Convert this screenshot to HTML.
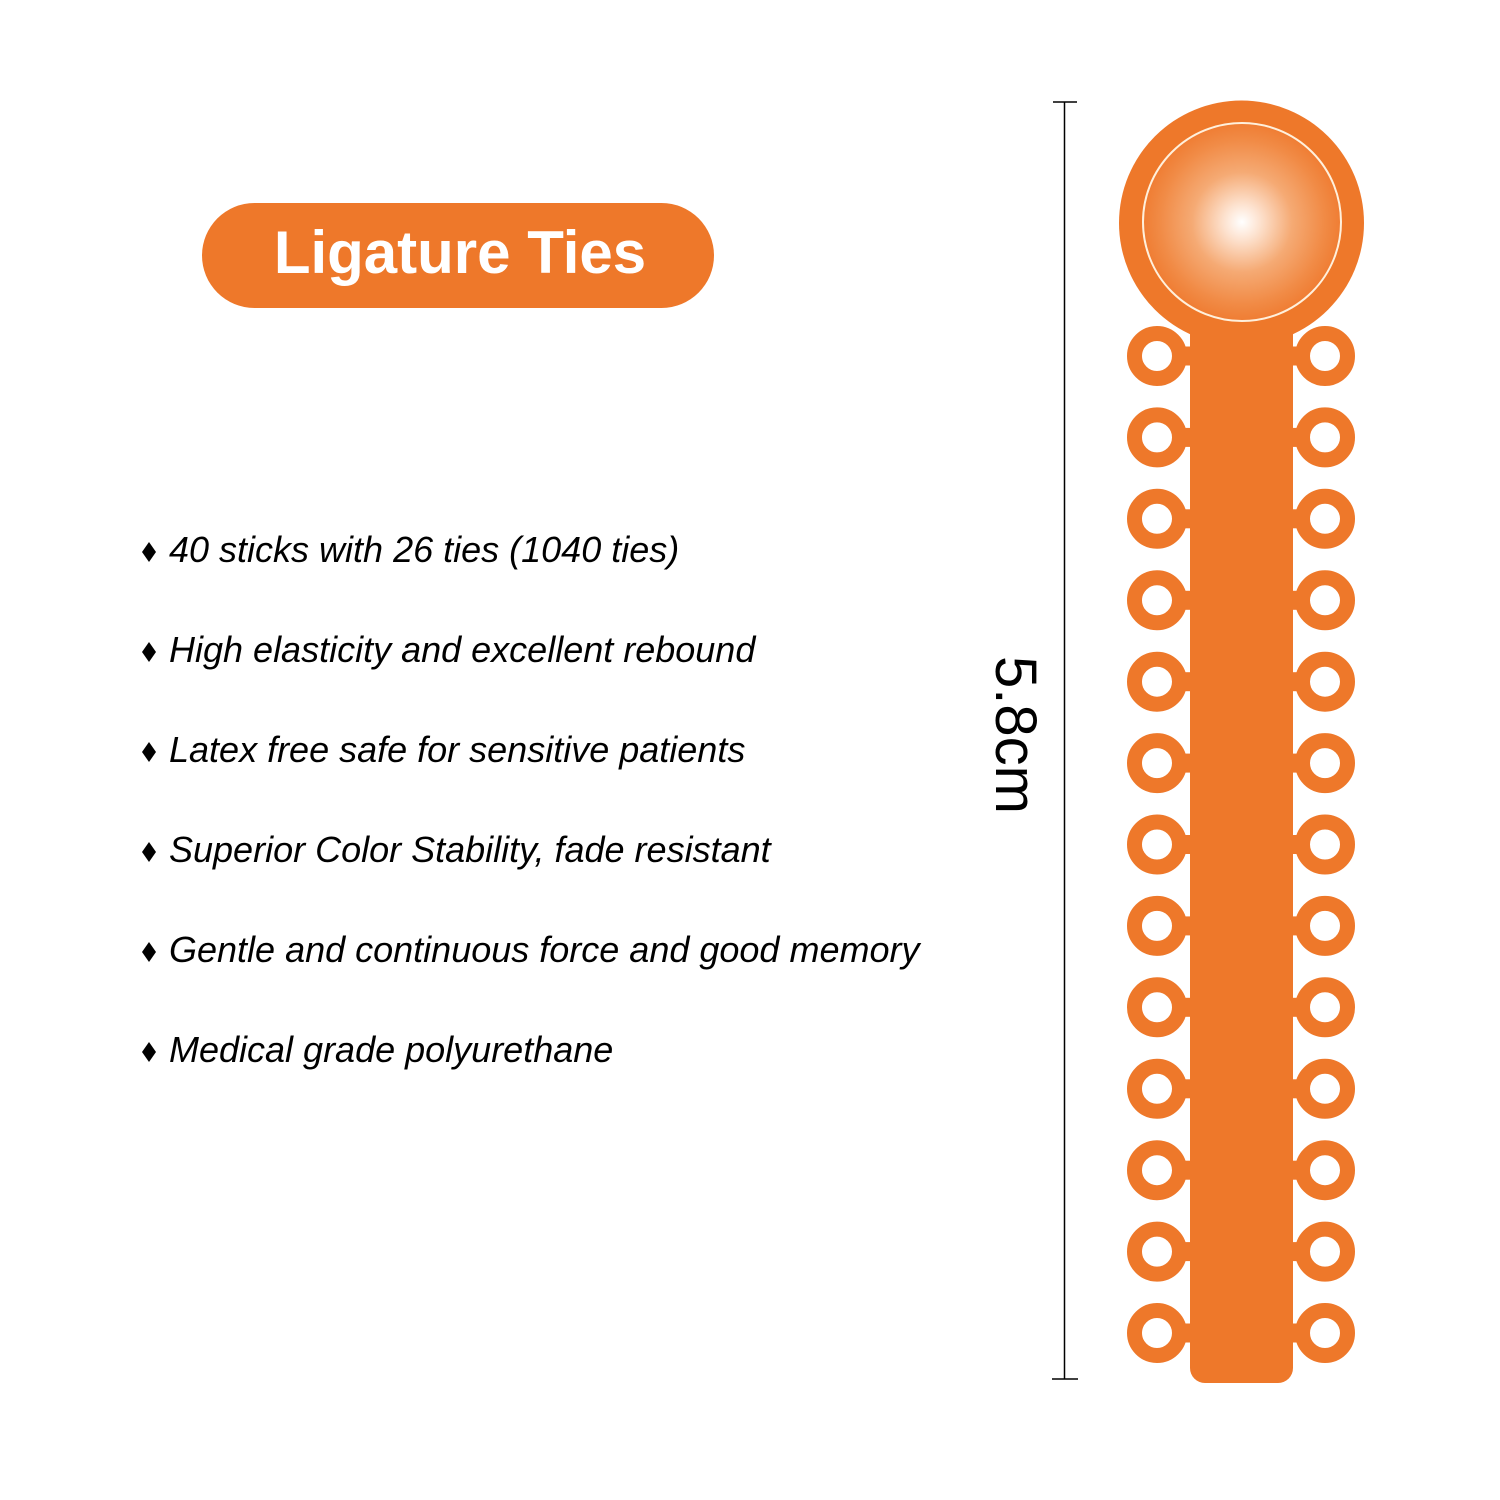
<!DOCTYPE html>
<html>
<head>
<meta charset="utf-8">
<style>
  html, body { margin: 0; padding: 0; background: #ffffff; }
  body { width: 1500px; height: 1500px; overflow: hidden; }
  svg { display: block; }
  .bul { font-family: "Liberation Sans", Arial, sans-serif; font-style: italic; font-size: 36px; fill: #000; }
</style>
</head>
<body>
<svg width="1500" height="1500" viewBox="0 0 1500 1500" xmlns="http://www.w3.org/2000/svg">
  <defs>
    <radialGradient id="g" cx="1242" cy="222" r="100" gradientUnits="userSpaceOnUse">
      <stop offset="0" stop-color="#ffffff"/>
      <stop offset="0.18" stop-color="#fde2cf"/>
      <stop offset="0.5" stop-color="#f5aa74"/>
      <stop offset="0.82" stop-color="#f18b46"/>
      <stop offset="1" stop-color="#ef7c32"/>
    </radialGradient>
  </defs>

  <!-- Title pill -->
  <rect x="202" y="203" width="512" height="105" rx="52.5" fill="#EE782A"/>
  <text x="460" y="273" text-anchor="middle" font-family="Liberation Sans, Arial, sans-serif" font-weight="bold" font-size="60" fill="#ffffff">Ligature Ties</text>

  <!-- Bullets -->
  <g fill="#000">
    <polygon points="149,542 156,552 149,562 142,552"/>
    <polygon points="149,642 156,652 149,662 142,652"/>
    <polygon points="149,742 156,752 149,762 142,752"/>
    <polygon points="149,842 156,852 149,862 142,852"/>
    <polygon points="149,942 156,952 149,962 142,952"/>
    <polygon points="149,1042 156,1052 149,1062 142,1052"/>
  </g>
  <text class="bul" x="169" y="562">40 sticks with 26 ties (1040 ties)</text>
  <text class="bul" x="169" y="662">High elasticity and excellent rebound</text>
  <text class="bul" x="169" y="762">Latex free safe for sensitive patients</text>
  <text class="bul" x="169" y="862">Superior Color Stability, fade resistant</text>
  <text class="bul" x="169" y="962">Gentle and continuous force and good memory</text>
  <text class="bul" x="169" y="1062">Medical grade polyurethane</text>

  <!-- Measurement -->
  <line x1="1064.5" y1="102" x2="1064.5" y2="1379" stroke="#000" stroke-width="1.5"/>
  <line x1="1053" y1="102" x2="1077" y2="102" stroke="#000" stroke-width="1.5"/>
  <line x1="1052" y1="1379" x2="1078" y2="1379" stroke="#000" stroke-width="1.5"/>
  <text transform="translate(996,656) rotate(90)" font-family="Liberation Sans, Arial, sans-serif" font-size="58" fill="#000">5.8cm</text>

  <!-- Stick -->
  <g fill="#EE782A">
    <circle cx="1241.5" cy="223" r="122.5"/>
    <rect x="1190" y="290" width="103" height="1093" rx="15"/>
  </g>
  <circle cx="1242" cy="222" r="99" fill="url(#g)" stroke="#fff0dc" stroke-width="2"/>

  <g fill="none" stroke="#EE782A" stroke-width="15">
    <circle cx="1157" cy="356" r="22.5"/><circle cx="1325" cy="356" r="22.5"/>
    <circle cx="1157" cy="437.4" r="22.5"/><circle cx="1325" cy="437.4" r="22.5"/>
    <circle cx="1157" cy="518.8" r="22.5"/><circle cx="1325" cy="518.8" r="22.5"/>
    <circle cx="1157" cy="600.3" r="22.5"/><circle cx="1325" cy="600.3" r="22.5"/>
    <circle cx="1157" cy="681.7" r="22.5"/><circle cx="1325" cy="681.7" r="22.5"/>
    <circle cx="1157" cy="763.1" r="22.5"/><circle cx="1325" cy="763.1" r="22.5"/>
    <circle cx="1157" cy="844.5" r="22.5"/><circle cx="1325" cy="844.5" r="22.5"/>
    <circle cx="1157" cy="925.9" r="22.5"/><circle cx="1325" cy="925.9" r="22.5"/>
    <circle cx="1157" cy="1007.3" r="22.5"/><circle cx="1325" cy="1007.3" r="22.5"/>
    <circle cx="1157" cy="1088.8" r="22.5"/><circle cx="1325" cy="1088.8" r="22.5"/>
    <circle cx="1157" cy="1170.2" r="22.5"/><circle cx="1325" cy="1170.2" r="22.5"/>
    <circle cx="1157" cy="1251.6" r="22.5"/><circle cx="1325" cy="1251.6" r="22.5"/>
    <circle cx="1157" cy="1333" r="22.5"/><circle cx="1325" cy="1333" r="22.5"/>
  </g>
  <g fill="#EE782A">
    <rect x="1180" y="346.5" width="14" height="19"/><rect x="1289" y="346.5" width="14" height="19"/>
    <rect x="1180" y="427.9" width="14" height="19"/><rect x="1289" y="427.9" width="14" height="19"/>
    <rect x="1180" y="509.3" width="14" height="19"/><rect x="1289" y="509.3" width="14" height="19"/>
    <rect x="1180" y="590.8" width="14" height="19"/><rect x="1289" y="590.8" width="14" height="19"/>
    <rect x="1180" y="672.2" width="14" height="19"/><rect x="1289" y="672.2" width="14" height="19"/>
    <rect x="1180" y="753.6" width="14" height="19"/><rect x="1289" y="753.6" width="14" height="19"/>
    <rect x="1180" y="835" width="14" height="19"/><rect x="1289" y="835" width="14" height="19"/>
    <rect x="1180" y="916.4" width="14" height="19"/><rect x="1289" y="916.4" width="14" height="19"/>
    <rect x="1180" y="997.8" width="14" height="19"/><rect x="1289" y="997.8" width="14" height="19"/>
    <rect x="1180" y="1079.3" width="14" height="19"/><rect x="1289" y="1079.3" width="14" height="19"/>
    <rect x="1180" y="1160.7" width="14" height="19"/><rect x="1289" y="1160.7" width="14" height="19"/>
    <rect x="1180" y="1242.1" width="14" height="19"/><rect x="1289" y="1242.1" width="14" height="19"/>
    <rect x="1180" y="1323.5" width="14" height="19"/><rect x="1289" y="1323.5" width="14" height="19"/>
  </g>
</svg>
</body>
</html>
